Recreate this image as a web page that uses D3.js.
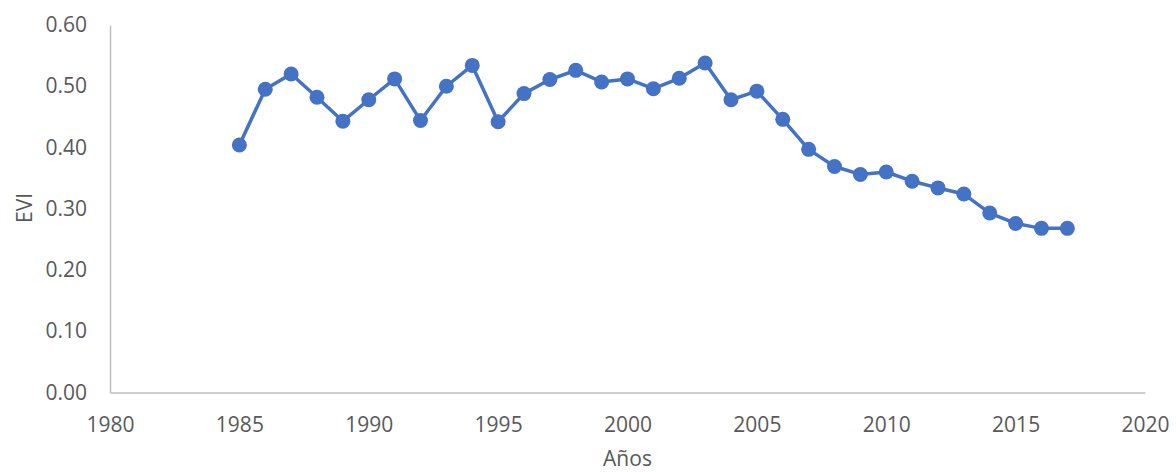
<!DOCTYPE html>
<html>
<head>
<meta charset="utf-8">
<script src="https://cdn.jsdelivr.net/npm/d3@7"></script>
<style>
  html, body { margin: 0; padding: 0; background: #fff; }
  svg { display: block; }
  text { font-family: "Open Sans", "Noto Sans", sans-serif; fill: #595959; }
</style>
</head>
<body>
<svg id="chart" width="1176" height="472"></svg>
<script>
// Annual EVI series
const years = [1985, 1986, 1987, 1988, 1989, 1990, 1991, 1992, 1993, 1994,
               1995, 1996, 1997, 1998, 1999, 2000, 2001, 2002, 2003, 2004,
               2005, 2006, 2007, 2008, 2009, 2010, 2011, 2012, 2013, 2014,
               2015, 2016, 2017];
const evi = [0.404, 0.495, 0.520, 0.482, 0.443, 0.478, 0.512, 0.444, 0.500, 0.534,
             0.442, 0.488, 0.511, 0.526, 0.507, 0.512, 0.496, 0.513, 0.538, 0.478,
             0.492, 0.446, 0.397, 0.369, 0.356, 0.360, 0.345, 0.334, 0.324, 0.293,
             0.276, 0.268, 0.268];
const xTicks = [1980, 1985, 1990, 1995, 2000, 2005, 2010, 2015, 2020];
const yTicks = [0, 0.1, 0.2, 0.3, 0.4, 0.5, 0.6];
const xTitle = "Años";
const yTitle = "EVI";

const svg = d3.select("#chart");
const plotLeft = 110, plotRight = 1145, plotTop = 25, plotBottom = 392.5;
const fontSize = 21;

const x = d3.scaleLinear().domain([1980, 2020]).range([plotLeft, plotRight]);
const y = d3.scaleLinear().domain([0, 0.6]).range([plotBottom, plotTop]);

// Axes
const xAxis = svg.append("g")
  .attr("transform", `translate(0,${plotBottom})`)
  .call(d3.axisBottom(x).tickValues(xTicks).tickFormat(d3.format("d")).tickSize(0).tickPadding(25));
const yAxis = svg.append("g")
  .attr("transform", `translate(${plotLeft},0)`)
  .call(d3.axisLeft(y).tickValues(yTicks).tickFormat(d3.format(".2f")).tickSize(0).tickPadding(23));

[xAxis, yAxis].forEach(g => {
  g.select(".domain").attr("stroke", "#BFBFBF").attr("stroke-width", 1.5);
  g.selectAll("text").attr("font-size", fontSize).attr("fill", "#595959")
    .style("font-family", '"Open Sans", "Noto Sans", sans-serif');
});

// Line and markers
const line = d3.line().x((d, i) => x(years[i])).y(d => y(d));
svg.append("path")
  .datum(evi)
  .attr("d", line)
  .attr("fill", "none")
  .attr("stroke", "#4472C4")
  .attr("stroke-width", 3.5)
  .attr("stroke-linejoin", "round");

svg.append("g").selectAll("circle")
  .data(evi)
  .join("circle")
  .attr("cx", (d, i) => x(years[i]))
  .attr("cy", d => y(d))
  .attr("r", 7.5)
  .attr("fill", "#4472C4");

// Axis titles
svg.append("text")
  .attr("x", (plotLeft + plotRight) / 2)
  .attr("y", 466)
  .attr("text-anchor", "middle")
  .attr("font-size", fontSize)
  .text(xTitle);

svg.append("text")
  .attr("transform", `translate(32,208) rotate(-90)`)
  .attr("text-anchor", "middle")
  .attr("font-size", fontSize)
  .text(yTitle);
</script>
</body>
</html>
